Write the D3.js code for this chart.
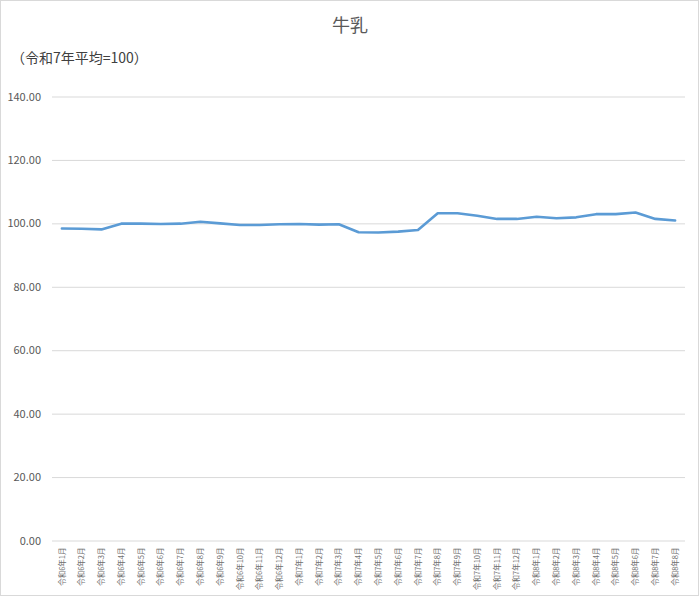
<!DOCTYPE html>
<html><head><meta charset="utf-8">
<script src="https://cdn.jsdelivr.net/npm/d3@7"></script>
<style>
html,body{margin:0;padding:0;background:#fff;}
svg{display:block;font-family:"Noto Sans CJK JP","Noto Sans",sans-serif;}
</style></head>
<body><svg id="chart" width="700" height="597"></svg>
<script>
const title = "牛乳";
const subtitle = "（令和7年平均=100）";
const categories = [
  "令和6年1月","令和6年2月","令和6年3月","令和6年4月","令和6年5月","令和6年6月",
  "令和6年7月","令和6年8月","令和6年9月","令和6年10月","令和6年11月","令和6年12月",
  "令和7年1月","令和7年2月","令和7年3月","令和7年4月","令和7年5月","令和7年6月",
  "令和7年7月","令和7年8月","令和7年9月","令和7年10月","令和7年11月","令和7年12月",
  "令和8年1月","令和8年2月","令和8年3月","令和8年4月","令和8年5月","令和8年6月",
  "令和8年7月","令和8年8月"
];
const values = [
  98.4, 98.3, 98.1, 99.9, 99.9, 99.8, 99.9, 100.5, 100.0, 99.5, 99.5, 99.7,
  99.8, 99.6, 99.7, 97.2, 97.1, 97.4, 97.9, 103.2, 103.2, 102.4, 101.4, 101.4,
  102.1, 101.6, 101.9, 102.9, 102.9, 103.4, 101.4, 100.9
];
const yTicks = [0, 20, 40, 60, 80, 100, 120, 140];

const svg = d3.select("#chart");
const W = 700, H = 597;
const m = {left: 52, right: 15, top: 96.5, bottom: 56.5};

svg.append("rect").attr("x", 0.5).attr("y", 0.5).attr("width", W - 2).attr("height", H - 2)
  .attr("fill", "#fff").attr("stroke", "#d9d9d9").attr("stroke-width", 1);

const x = d3.scaleBand().domain(categories).range([m.left, W - m.right]);
const y = d3.scaleLinear().domain([0, 140]).range([H - m.bottom, m.top]);

// gridlines
const yAxis = d3.axisLeft(y).tickValues(yTicks).tickSize(-(W - m.right - m.left))
  .tickFormat(d3.format(".2f")).tickPadding(11);
const gy = svg.append("g").attr("transform", `translate(${m.left},0)`).call(yAxis);
gy.select(".domain").remove();
gy.selectAll(".tick line").attr("stroke", "#d9d9d9").attr("stroke-width", 1);
gy.selectAll(".tick text").attr("fill", "#595959").style("font-size", "11px")
  .style("font-family", "'Noto Sans CJK JP',sans-serif");

// x axis labels
const xAxis = d3.axisBottom(x).tickSize(0).tickPadding(0);
const gx = svg.append("g").attr("transform", `translate(0,${H - m.bottom})`).call(xAxis);
gx.select(".domain").remove();
gx.selectAll(".tick text")
  .attr("transform", "rotate(-90)")
  .attr("x", -7).attr("y", 0).attr("dy", "0.35em")
  .style("text-anchor", "end")
  .attr("fill", "#6f6f6f").style("font-size", "7.5px")
  .style("font-family", "'Noto Sans CJK JP',sans-serif");

// line
const line = d3.line()
  .x((d, i) => x(categories[i]) + x.bandwidth() / 2)
  .y(d => y(d));
svg.append("path").datum(values).attr("d", line)
  .attr("fill", "none").attr("stroke", "#5b9bd5").attr("stroke-width", 2.6)
  .attr("stroke-linejoin", "round").attr("stroke-linecap", "round");

// title
svg.append("text").attr("x", 350).attr("y", 32).attr("text-anchor", "middle")
  .attr("fill", "#595959").style("font-size", "18px").text(title);
svg.append("text").attr("x", 11).attr("y", 63)
  .attr("fill", "#404040").style("font-size", "14px").text(subtitle);
</script></body></html>
